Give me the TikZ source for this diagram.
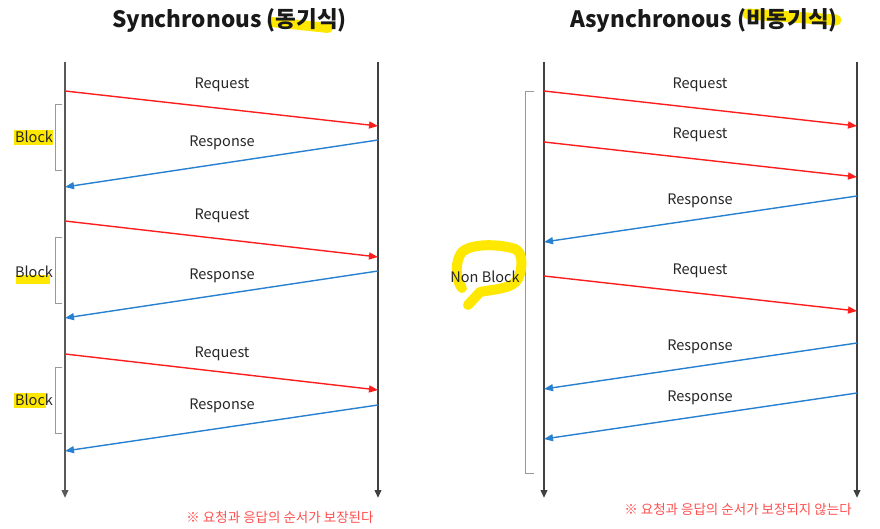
\documentclass[tikz,border=0pt]{standalone}
\usepackage{fontspec}
\setmainfont{Noto Sans CJK KR}
\usetikzlibrary{arrows.meta}
\definecolor{reqred}{RGB}{255,30,30}
\definecolor{resblue}{RGB}{40,128,208}
\definecolor{hl}{RGB}{255,232,0}
\definecolor{notered}{RGB}{255,80,80}
\begin{document}
\begin{tikzpicture}[x=1pt,y=-1pt,
  life/.style={line width=2pt, draw=black!75, -{Triangle[length=8pt,width=6.5pt]}},
  msg/.style={line width=1.4pt, -{Triangle[length=9pt,width=7pt]}},
  reqmsg/.style={msg, draw=reqred, fill=reqred},
  resmsg/.style={msg, draw=resblue, fill=resblue},
  lbl/.style={font=\fontsize{14.5}{16}\selectfont, text=black!85, inner sep=1pt},
  brk/.style={draw=black!40, line width=0.8pt},
  ttl/.style={font=\fontsize{22.5}{26}\selectfont\bfseries, text=black!90},
  note/.style={font=\fontsize{13.5}{15}\selectfont, text=notered},
  hlstroke/.style={draw=hl, line cap=round, line join=round}]
\useasboundingbox[fill=white] (0,0) rectangle (880,529);

% highlights behind titles
\draw[hlstroke, line width=10pt] (272,22) -- (328,28);
\draw[hlstroke, line width=11pt] (748,14) -- (836,20);
\node[ttl] (t1) at (229.5,20) {Synchronous (동기식)};
\node[ttl] (t2) at (704,20) {Asynchronous (비동기식)};

% lifelines
\coordinate (A0) at (65,62);  \coordinate (A1) at (65,498);
\coordinate (B0) at (378,62); \coordinate (B1) at (378,498);
\coordinate (C0) at (544,62); \coordinate (C1) at (544,498);
\coordinate (D0) at (857,62); \coordinate (D1) at (857,498);
\draw[life, draw=black!65] (A0) -- (A1);
\draw[life] (B0) -- (B1);
\draw[life] (C0) -- (C1);
\draw[life] (D0) -- (D1);

% synchronous messages
\coordinate (a1) at (65,91);   \coordinate (b1) at (378,126);
\coordinate (b2) at (378,140); \coordinate (a2) at (65,187);
\coordinate (a3) at (65,221);  \coordinate (b3) at (378,257);
\coordinate (b4) at (378,271); \coordinate (a4) at (65,318);
\coordinate (a5) at (65,354);  \coordinate (b5) at (378,390);
\coordinate (b6) at (378,405); \coordinate (a6) at (65,451);
\draw[reqmsg] (a1) -- (b1);
\draw[resmsg] (b2) -- (a2);
\draw[reqmsg] (a3) -- (b3);
\draw[resmsg] (b4) -- (a4);
\draw[reqmsg] (a5) -- (b5);
\draw[resmsg] (b6) -- (a6);
\node[lbl] (l1) at (222,85) {Request};
\node[lbl] (l2) at (222,143) {Response};
\node[lbl] (l3) at (222,216) {Request};
\node[lbl] (l4) at (222,276) {Response};
\node[lbl] (l5) at (222,354) {Request};
\node[lbl] (l6) at (222,406) {Response};

% block brackets
\draw[brk] (62,104) -- (55,104) -- (55,170) -- (62,170);
\draw[brk] (62,237) -- (55,237) -- (55,303) -- (62,303);
\draw[brk] (62,367) -- (55,367) -- (55,433) -- (62,433);
\fill[hl] (14,130) rectangle (53,145);
\fill[hl] (16,275) rectangle (50,284);
\fill[hl] (14,393) rectangle (46,408);
\node[lbl] (k1) at (34,137) {Block};
\node[lbl] (k2) at (34,272) {Block};
\node[lbl] (k3) at (34,400) {Block};

% asynchronous messages
\coordinate (c1) at (544,91);  \coordinate (d1) at (857,126);
\coordinate (c2) at (544,142); \coordinate (d2) at (857,177);
\coordinate (d3) at (857,196); \coordinate (c3) at (544,242);
\coordinate (c4) at (544,276); \coordinate (d4) at (857,311);
\coordinate (d5) at (857,343); \coordinate (c5) at (544,389);
\coordinate (d6) at (857,393); \coordinate (c6) at (544,439);
\draw[reqmsg] (c1) -- (d1);
\draw[reqmsg] (c2) -- (d2);
\draw[resmsg] (d3) -- (c3);
\draw[reqmsg] (c4) -- (d4);
\draw[resmsg] (d5) -- (c5);
\draw[resmsg] (d6) -- (c6);
\node[lbl] (m1) at (700,85) {Request};
\node[lbl] (m2) at (700,135) {Request};
\node[lbl] (m3) at (700,201) {Response};
\node[lbl] (m4) at (700,271) {Request};
\node[lbl] (m5) at (700,347) {Response};
\node[lbl] (m6) at (700,398) {Response};

% non block bracket and scribble
\draw[brk] (534,91) -- (525,91) -- (525,473) -- (534,473);
\draw[hlstroke, line width=10pt] (468,305) -- (480,292)
  .. controls (495,289) and (512,289) .. (518,279)
  .. controls (523,268) and (523,252) .. (515,249)
  .. controls (500,244) and (472,243) .. (462,252)
  .. controls (455,260) and (455,280) .. (462,288);
\node[lbl] (nb) at (485,277) {Non Block};

% notes
\node[note] (n1) at (280,517) {※ 요청과 응답의 순서가 보장된다};
\node[note] (n2) at (738,509) {※ 요청과 응답의 순서가 보장되지 않는다};
\end{tikzpicture}
\end{document}
